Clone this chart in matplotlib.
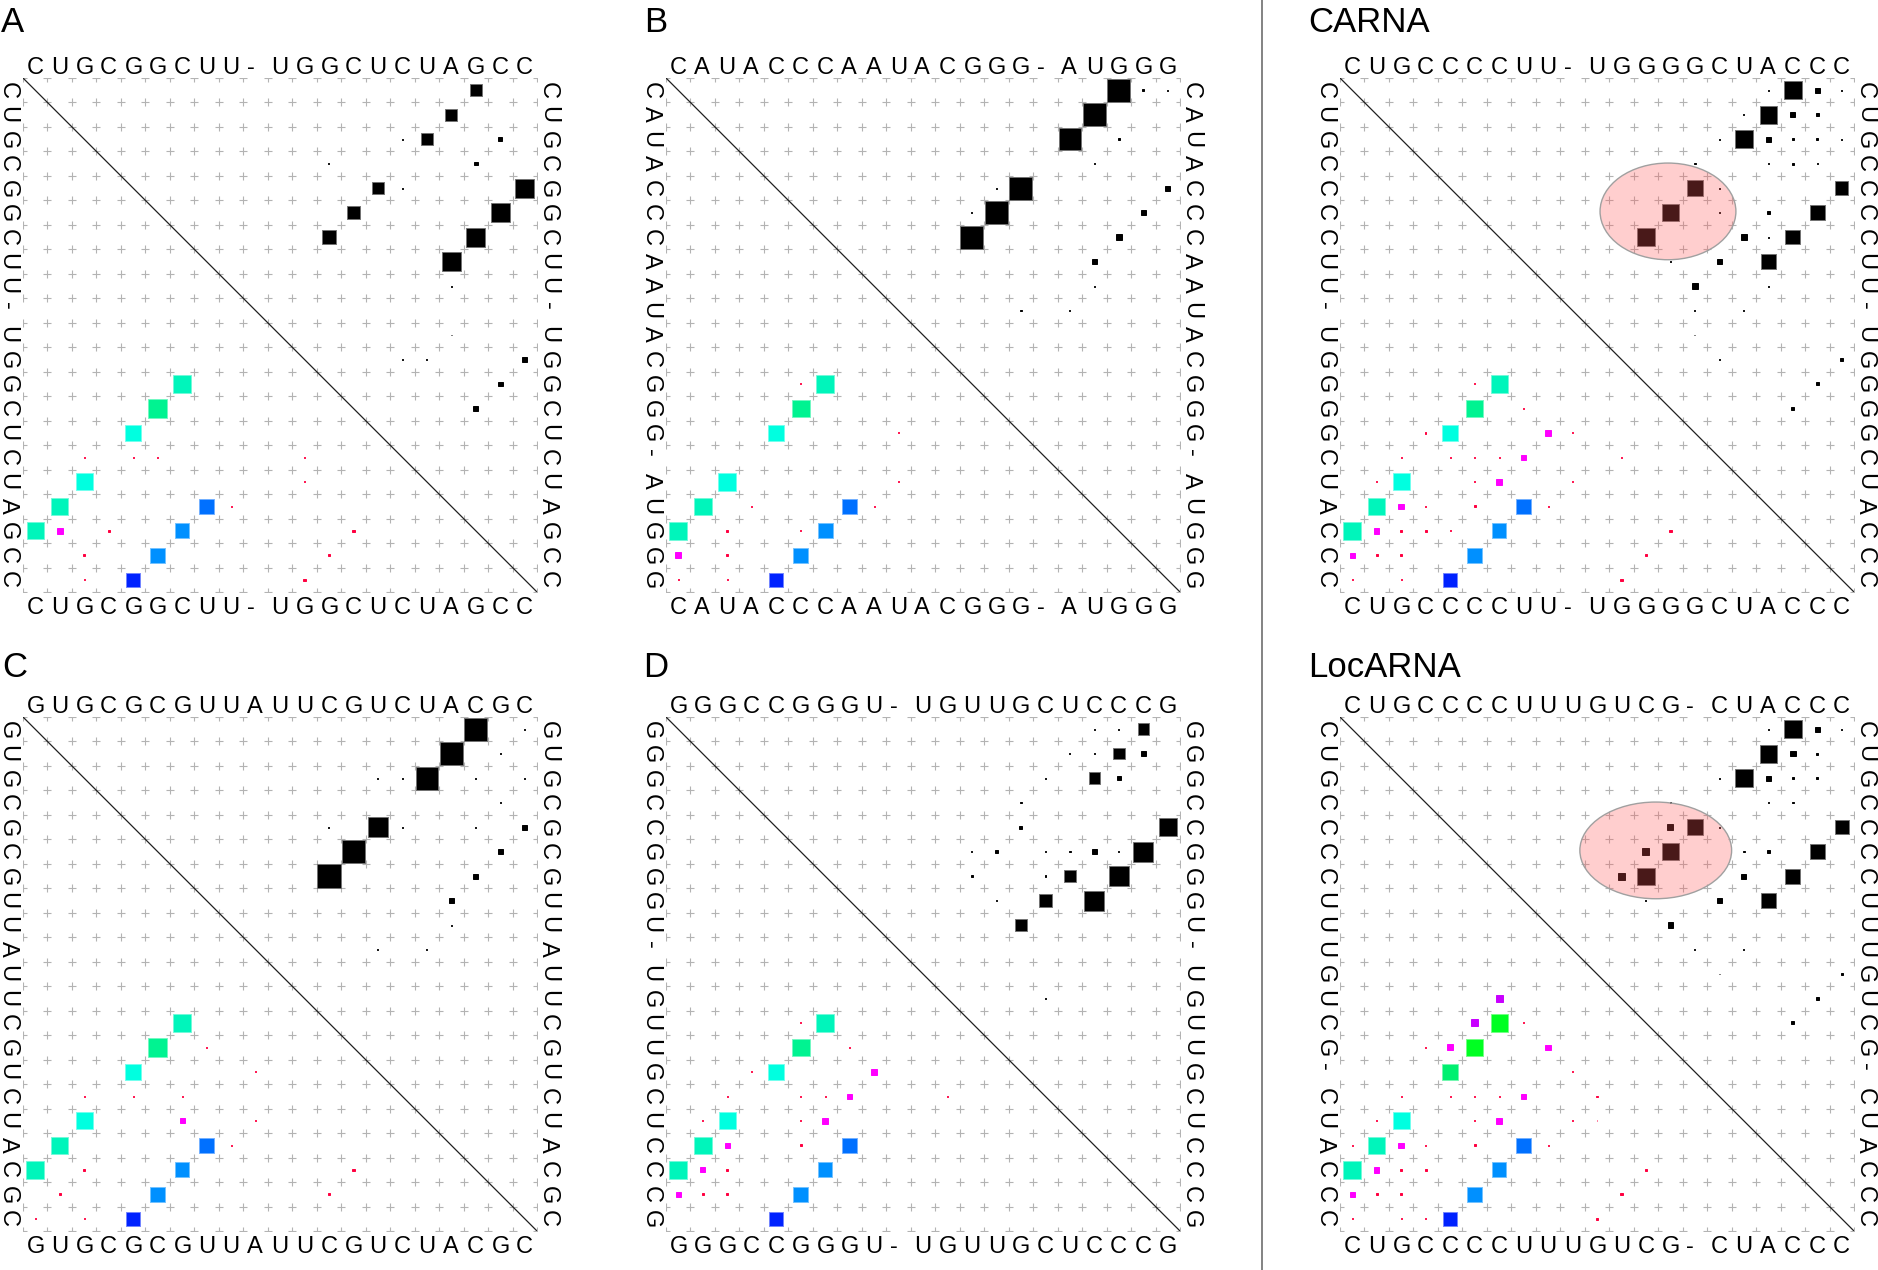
import numpy as np
import matplotlib
matplotlib.use("Agg")
import matplotlib.pyplot as plt
from matplotlib.patches import Rectangle, Ellipse
from matplotlib.lines import Line2D

plt.rcParams['font.family'] = ['Liberation Sans', 'DejaVu Sans']

W, H, DPI = 1878, 1270, 100

# ==== Sequences (one alignment row per panel) ====
SEQ_A = "CUGCGGCUU-UGGCUCUAGCC"
SEQ_B = "CAUACCCAAUACGGG-AUGGG"
SEQ_CARNA = "CUGCCCCUU-UGGGGCUACCC"
SEQ_C = "GUGCGCGUUAUUCGUCUACGC"
SEQ_D = "GGGCCGGGU-UGUUGCUCCCG"
SEQ_LOCARNA = "CUGCCCCUUUGUCG-CUACCC"

# ==== Upper triangle: pair probabilities (row, col, p) ====
UPPER_A = [(0, 18, .25), (1, 17, .25), (2, 16, .25), (2, 19, .03), (2, 15, .002),
           (3, 18, .022), (3, 12, .001), (4, 14, .22), (4, 20, .6), (4, 15, .002),
           (5, 13, .3), (5, 19, .6), (6, 12, .32), (6, 18, .6), (7, 17, .6),
           (8, 17, .001), (10, 17, .001), (11, 15, .002), (11, 16, .001),
           (11, 20, .04), (12, 19, .04), (13, 18, .04)]
UPPER_B = [(0, 18, .86), (0, 19, .006), (0, 20, .001), (1, 17, .85), (2, 16, .85),
           (2, 18, .004), (3, 17, .004), (4, 14, .88), (4, 13, .002), (4, 20, .04),
           (5, 13, .88), (5, 12, .002), (5, 19, .04), (6, 12, .88), (6, 18, .05),
           (7, 17, .05), (8, 17, .001), (9, 14, .003), (9, 16, .002)]
UPPER_CARNA = [(0, 17, .001), (0, 18, .52), (0, 19, .05), (0, 20, .002),
               (1, 16, .001), (1, 17, .52), (1, 18, .04), (1, 19, .01),
               (2, 15, .003), (2, 16, .52), (2, 17, .04), (2, 18, .01), (2, 19, .006), (2, 20, .002),
               (3, 14, .003), (3, 17, .002), (3, 18, .006), (3, 19, .002),
               (4, 14, .45), (4, 15, .002), (4, 20, .3),
               (5, 13, .52), (5, 15, .002), (5, 17, .015), (5, 19, .36),
               (6, 12, .52), (6, 16, .05), (6, 17, .002), (6, 18, .36),
               (7, 13, .002), (7, 15, .05), (7, 17, .36),
               (8, 14, .05), (8, 17, .001), (9, 14, .002), (9, 16, .002), (10, 14, .001),
               (11, 15, .002), (11, 20, .015), (12, 19, .015), (13, 18, .015)]
UPPER_C = [(0, 18, .86), (0, 20, .002), (1, 17, .86), (1, 19, .002), (2, 16, .86),
           (2, 14, .001), (2, 15, .001), (2, 18, .002), (2, 20, .001), (3, 19, .002),
           (4, 14, .64), (4, 12, .001), (4, 15, .002), (4, 18, .001), (4, 20, .04),
           (5, 13, .86), (5, 19, .04), (6, 12, .9), (6, 18, .04), (7, 17, .04),
           (8, 17, .001), (9, 14, .002), (9, 16, .002)]
UPPER_D = [(0, 17, .003), (0, 18, .002), (0, 19, .22),
           (1, 16, .002), (1, 17, .002), (1, 18, .22), (1, 19, .04),
           (2, 15, .003), (2, 17, .22), (2, 18, .03), (3, 14, .004),
           (4, 14, .015), (4, 20, .53),
           (5, 12, .002), (5, 13, .015), (5, 15, .003), (5, 16, .003), (5, 17, .05),
           (5, 18, .002), (5, 19, .67),
           (6, 12, .01), (6, 15, .003), (6, 16, .25), (6, 18, .67),
           (7, 13, .005), (7, 15, .25), (7, 17, .67), (8, 14, .22), (11, 15, .002)]
UPPER_LOCARNA = [(0, 17, .001), (0, 18, .52), (0, 19, .05), (0, 20, .002),
                 (1, 17, .52), (1, 18, .05), (1, 19, .006),
                 (2, 15, .003), (2, 16, .52), (2, 17, .04), (2, 18, .006), (2, 19, .005),
                 (3, 13, .002), (3, 17, .002), (3, 18, .004),
                 (4, 13, .06), (4, 14, .42), (4, 15, .002), (4, 20, .32),
                 (5, 12, .08), (5, 13, .49), (5, 16, .003), (5, 17, .015), (5, 19, .38),
                 (6, 11, .08), (6, 12, .49), (6, 16, .04), (6, 18, .38),
                 (7, 12, .002), (7, 15, .05), (7, 17, .36), (8, 13, .05),
                 (9, 14, .002), (9, 16, .002), (10, 15, .001), (10, 20, .01),
                 (11, 19, .015), (12, 18, .015)]

# ==== Lower triangle: consensus pairs (row, col, p, colour class) ====
LOWER_A = [(12, 6, .53, 'teal'), (13, 5, .58, 'spring'), (14, 4, .46, 'cyan'),
           (16, 2, .49, 'cyan'), (17, 1, .46, 'teal'), (18, 0, .49, 'teal'),
           (17, 7, .36, 'blue1'), (18, 6, .36, 'blue2'), (19, 5, .37, 'blue2'),
           (20, 4, .32, 'blue3'), (18, 1, .06, 'magenta'),
           (15, 2, .003, 'red'), (15, 4, .002, 'red'), (15, 5, .002, 'red'),
           (15, 11, .002, 'red'), (16, 11, .001, 'red'), (17, 8, .001, 'red'),
           (18, 3, .006, 'red'), (18, 13, .008, 'red'), (19, 2, .005, 'red'),
           (19, 12, .008, 'red'), (20, 11, .008, 'red'), (20, 2, .001, 'red')]
LOWER_B = [(12, 6, .5, 'teal'), (13, 5, .53, 'spring'), (14, 4, .46, 'cyan'),
           (16, 2, .52, 'cyan'), (17, 1, .52, 'teal'), (18, 0, .52, 'teal'),
           (17, 7, .36, 'blue1'), (18, 6, .38, 'blue2'), (19, 5, .38, 'blue2'),
           (20, 4, .32, 'blue3'), (19, 0, .06, 'magenta'),
           (12, 5, .001, 'red'), (14, 9, .001, 'red'), (16, 9, .001, 'red'),
           (17, 3, .002, 'red'), (17, 8, .002, 'red'), (18, 2, .008, 'red'),
           (18, 5, .001, 'red'), (19, 2, .006, 'red'), (20, 0, .002, 'red'), (20, 2, .001, 'red')]
LOWER_CARNA = [(12, 6, .49, 'teal'), (13, 5, .52, 'spring'), (14, 4, .46, 'cyan'),
               (16, 2, .49, 'cyan'), (17, 1, .49, 'teal'), (18, 0, .52, 'teal'),
               (17, 7, .36, 'blue1'), (18, 6, .36, 'blue2'), (19, 5, .36, 'blue2'),
               (20, 4, .32, 'blue3'),
               (14, 8, .05, 'magenta'), (15, 7, .05, 'magenta'), (16, 6, .05, 'magenta'),
               (17, 2, .05, 'magenta'), (18, 1, .05, 'magenta'), (19, 0, .05, 'magenta'),
               (12, 5, .001, 'red'), (13, 7, .002, 'red'), (14, 3, .003, 'red'),
               (14, 9, .001, 'red'), (15, 2, .002, 'red'), (15, 4, .002, 'red'),
               (15, 5, .002, 'red'), (15, 6, .002, 'red'), (15, 11, .002, 'red'),
               (16, 1, .002, 'red'), (16, 5, .002, 'red'), (16, 9, .002, 'red'),
               (17, 3, .002, 'red'), (17, 5, .008, 'red'), (17, 8, .002, 'red'),
               (18, 2, .008, 'red'), (18, 3, .005, 'red'), (18, 4, .001, 'red'),
               (18, 13, .008, 'red'), (19, 1, .008, 'red'), (19, 2, .007, 'red'),
               (19, 12, .008, 'red'), (20, 0, .001, 'red'), (20, 2, .001, 'red'),
               (20, 11, .008, 'red')]
LOWER_C = [(12, 6, .53, 'teal'), (13, 5, .56, 'spring'), (14, 4, .46, 'cyan'),
           (16, 2, .49, 'cyan'), (17, 1, .49, 'teal'), (18, 0, .52, 'teal'),
           (17, 7, .36, 'blue1'), (18, 6, .36, 'blue2'), (19, 5, .38, 'blue2'),
           (20, 4, .32, 'blue3'), (16, 6, .04, 'magenta'),
           (13, 7, .002, 'red'), (14, 9, .001, 'red'), (15, 2, .002, 'red'),
           (15, 4, .001, 'red'), (15, 6, .001, 'red'), (16, 9, .001, 'red'),
           (17, 8, .001, 'red'), (18, 2, .008, 'red'), (18, 13, .008, 'red'),
           (19, 1, .006, 'red'), (19, 12, .006, 'red'), (20, 0, .002, 'red'), (20, 2, .001, 'red')]
LOWER_D = [(12, 6, .53, 'teal'), (13, 5, .53, 'spring'), (14, 4, .44, 'cyan'),
           (16, 2, .49, 'cyan'), (17, 1, .52, 'teal'), (18, 0, .52, 'teal'),
           (17, 7, .36, 'blue1'), (18, 6, .36, 'blue2'), (19, 5, .36, 'blue2'),
           (20, 4, .32, 'blue3'),
           (14, 8, .05, 'magenta'), (15, 7, .05, 'magenta'), (16, 6, .05, 'magenta'),
           (17, 2, .04, 'magenta'), (18, 1, .04, 'magenta'), (19, 0, .05, 'magenta'),
           (12, 5, .001, 'red'), (13, 7, .001, 'red'), (14, 3, .001, 'red'),
           (15, 2, .001, 'red'), (15, 5, .001, 'red'), (15, 6, .001, 'red'),
           (15, 11, .001, 'red'), (16, 1, .001, 'red'), (16, 5, .001, 'red'),
           (17, 5, .008, 'red'), (18, 2, .008, 'red'), (19, 1, .008, 'red'), (19, 2, .008, 'red')]
LOWER_LOCARNA = [(11, 6, .08, 'violet'), (12, 5, .08, 'violet'), (12, 6, .49, 'lime'),
                 (13, 5, .52, 'lime'), (14, 4, .42, 'sea'), (16, 2, .49, 'cyan'),
                 (17, 1, .49, 'teal'), (18, 0, .52, 'teal'),
                 (17, 7, .36, 'blue1'), (18, 6, .36, 'blue2'), (19, 5, .36, 'blue2'),
                 (20, 4, .32, 'blue3'),
                 (13, 4, .06, 'magenta'), (13, 8, .05, 'magenta'), (15, 7, .05, 'magenta'),
                 (16, 6, .05, 'magenta'), (17, 2, .05, 'magenta'), (18, 1, .05, 'magenta'),
                 (19, 0, .05, 'magenta'),
                 (12, 7, .001, 'red'), (13, 3, .002, 'red'), (14, 9, .001, 'red'),
                 (15, 2, .002, 'red'), (15, 4, .001, 'red'), (15, 5, .001, 'red'),
                 (15, 6, .001, 'red'), (15, 10, .002, 'red'), (16, 1, .001, 'red'),
                 (16, 5, .002, 'red'), (16, 9, .001, 'red'), (16, 10, .001, 'red'),
                 (17, 0, .001, 'red'), (17, 3, .002, 'red'), (17, 5, .008, 'red'),
                 (17, 8, .001, 'red'), (18, 2, .008, 'red'), (18, 3, .005, 'red'),
                 (18, 12, .008, 'red'), (19, 1, .008, 'red'), (19, 2, .007, 'red'),
                 (19, 11, .008, 'red'), (20, 0, .001, 'red'), (20, 2, .001, 'red'),
                 (20, 3, .001, 'red'), (20, 10, .008, 'red')]

# ==== Highlighted helix (pairs circled in pink) ====
HIGHLIGHT_CARNA = [(4, 14), (5, 13), (6, 12)]
HIGHLIGHT_LOCARNA = [(4, 14), (5, 13), (6, 12), (4, 13), (5, 12), (6, 11)]

PAIR_COLORS = {
    'teal': '#00f5bb', 'spring': '#00f391', 'cyan': '#00ffe0',
    'blue1': '#0070ff', 'blue2': '#0090ff', 'blue3': '#0022ff',
    'magenta': '#ff00ff', 'red': '#ff0040', 'violet': '#c800ff',
    'lime': '#00ff22', 'sea': '#00f070',
}

GRID = 514
SEQ_FS = 17
TITLE_FS = 25


def lighten(c, f):
    rgb = np.array(matplotlib.colors.to_rgb(c))
    return tuple(rgb + (1 - rgb) * f)


def box(ax, i, j, p, color):
    s = max(np.sqrt(p), 0.04)
    ec = lighten(color, 0.45) if s > 0.3 else color
    ax.add_patch(Rectangle((j + 0.5 - s / 2, i + 0.5 - s / 2), s, s,
                           facecolor=color, edgecolor=ec, lw=0.7, zorder=3))


def draw_panel(left, top, seq, upper, lower, highlight=None, ell_w=5.5):
    ax = fig.add_axes([left / W, 1 - (top + GRID) / H, GRID / W, GRID / H])
    n = len(seq)
    ax.set_xlim(0, n)
    ax.set_ylim(n, 0)
    ax.axis('off')

    # grid crosses at the cell corners
    gx, gy = np.meshgrid(np.arange(n + 1), np.arange(n + 1))
    ax.plot(gx.ravel(), gy.ravel(), '+', color='#b3b3b3', ms=5.2, mew=0.8, zorder=1)
    ax.plot([0, n], [0, n], color='#202020', lw=0.9, zorder=2)

    for i, j, p in upper:
        box(ax, i, j, p, 'black')
    for i, j, p, c in lower:
        box(ax, i, j, p, PAIR_COLORS[c])

    if highlight:
        cy = np.mean([h[0] for h in highlight]) + 0.5
        cx = np.mean([h[1] for h in highlight]) + 0.5
        ax.add_patch(Ellipse((cx - 0.1, cy - 0.05), ell_w, 3.95,
                             facecolor=(1.0, 0.35, 0.35), alpha=0.29, lw=0, zorder=4))
        ax.add_patch(Ellipse((cx - 0.1, cy - 0.05), ell_w, 3.95,
                             facecolor='none', edgecolor='#a0a0a0', lw=1.0, zorder=4))

    # sequence on all four sides, each letter set at its cell
    for k, ch in enumerate(seq):
        ax.text(k + 0.15, -0.16, ch, fontsize=SEQ_FS, ha='left', va='baseline')
        ax.text(k + 0.15, n + 0.88, ch, fontsize=SEQ_FS, ha='left', va='baseline')
        ax.text(-0.88, k + 0.15, ch, fontsize=SEQ_FS, rotation=-90,
                rotation_mode='anchor', ha='left', va='baseline')
        ax.text(n + 0.2, k + 0.15, ch, fontsize=SEQ_FS, rotation=-90,
                rotation_mode='anchor', ha='left', va='baseline')
    return ax


fig = plt.figure(figsize=(W / DPI, H / DPI), dpi=DPI)

draw_panel(23, 78, SEQ_A, UPPER_A, LOWER_A)
draw_panel(666, 78, SEQ_B, UPPER_B, LOWER_B)
draw_panel(1340, 78, SEQ_CARNA, UPPER_CARNA, LOWER_CARNA, HIGHLIGHT_CARNA, 5.55)
draw_panel(23, 717, SEQ_C, UPPER_C, LOWER_C)
draw_panel(666, 717, SEQ_D, UPPER_D, LOWER_D)
draw_panel(1340, 717, SEQ_LOCARNA, UPPER_LOCARNA, LOWER_LOCARNA, HIGHLIGHT_LOCARNA, 6.2)

# panel titles
for x, base, label in [(1, 32, 'A'), (644, 32, 'B'), (1308, 32, 'CARNA'),
                       (2, 677, 'C'), (643, 677, 'D'), (1308, 677, 'LocARNA')]:
    fig.text(x / W, 1 - base / H, label, fontsize=TITLE_FS, ha='left', va='baseline')

# separator between the test panels and the tool panels
fig.add_artist(Line2D([1262 / W, 1262 / W], [0, 1], color='#7a7a7a', lw=1.3))

fig.savefig("out.png", dpi=DPI, facecolor='white')
